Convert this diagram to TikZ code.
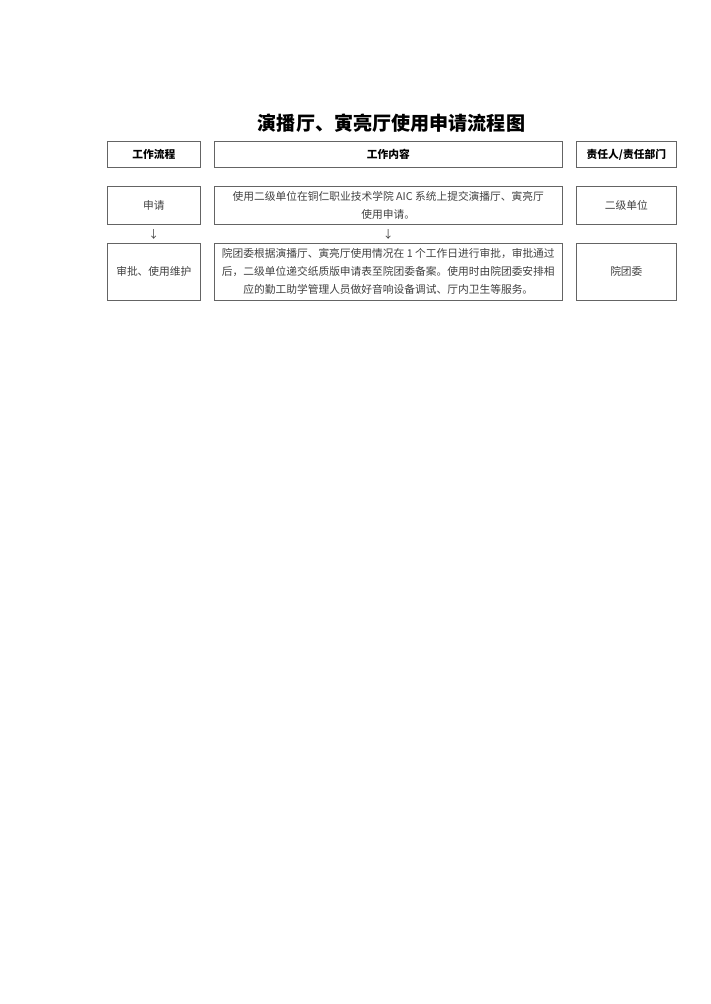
\documentclass[tikz,border=0pt]{standalone}
\usepackage{fontspec}
\setmainfont{Noto Sans CJK SC}
\usepackage{tikz}
\newcommand{\px}{0.8384pt}
\newcommand{\body}{\fontsize{9}{15.3}\selectfont}
\definecolor{boxgray}{RGB}{100,100,100}
\definecolor{textgray}{RGB}{64,64,64}

\begin{document}
\begin{tikzpicture}[x=\px,y=\px,
  cell/.style={draw=boxgray,line width=0.6pt,inner sep=0pt,outer sep=0pt,
    align=center,text=textgray,font=\body},
  headcell/.style={cell,text=black,font=\body\bfseries},
  flowcol/.style={minimum width=93.7*\px},
  textcol/.style={minimum width=348*\px},
  dutycol/.style={minimum width=100.7*\px}]
\useasboundingbox (0,0) rectangle (710,-1004);
\node[font=\fontsize{16}{19}\selectfont\bfseries] (title) at (391.5,-123) {演播厅、寅亮厅使用申请流程图};
%header row
\node[headcell,flowcol,minimum height=26.7*\px] (hflow) at (153.85,-154.35) {工作流程};
\node[headcell,textcol,minimum height=26.7*\px] (htext) at (388.3,-154.35) {工作内容};
\node[headcell,dutycol,minimum height=26.7*\px] (hduty) at (626.35,-154.35) {责任人/责任部门};
%apply
\node[cell,flowcol,minimum height=38.3*\px] (flowa) at (153.85,-205.15) {申请};
\node[cell,textcol,minimum height=38.3*\px] (texta) at (388.3,-205.15)
  {使用二级单位在铜仁职业技术学院 AIC 系统上提交演播厅、寅亮厅\\使用申请。};
\node[cell,dutycol,minimum height=38.3*\px] (dutya) at (626.35,-205.15) {二级单位};
\node[text=textgray,font=\body] (downa) at (153.85,-234) {↓};
\node[text=textgray,font=\body] (downb) at (388.3,-234) {↓};
%approve
\node[cell,flowcol,minimum height=56.7*\px] (flowb) at (153.85,-271.65) {审批、使用维护};
\node[cell,textcol,minimum height=56.7*\px] (textb) at (388.3,-271.65)
  {院团委根据演播厅、寅亮厅使用情况在 1 个工作日进行审批，审批通过\\后，二级单位递交纸质版申请表至院团委备案。使用时由院团委安排相\\应的勤工助学管理人员做好音响设备调试、厅内卫生等服务。};
\node[cell,dutycol,minimum height=56.7*\px] (dutyb) at (626.35,-271.65) {院团委};
\end{tikzpicture}
\end{document}
